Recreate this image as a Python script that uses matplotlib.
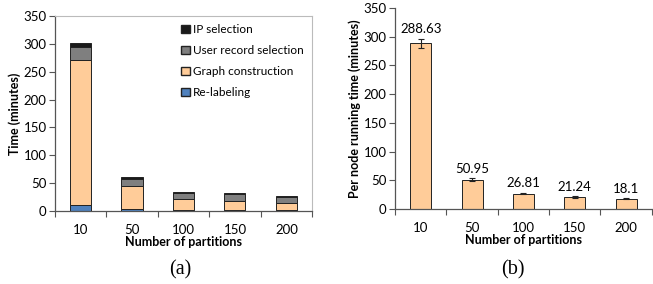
import numpy as np
import matplotlib
matplotlib.use('Agg')
import matplotlib.pyplot as plt
from matplotlib.patches import Patch

plt.rcParams['font.family'] = ['Lato', 'DejaVu Sans']

# data
partitions = ['10', '50', '100', '150', '200']
relabeling = [10, 3, 1.5, 1.5, 1.5]
graph_construction = [261, 42, 19.5, 16, 12.5]
user_record_selection = [23, 12, 12, 12.5, 12]
ip_selection = [7, 3.5, 1.5, 1.5, 1.5]

per_node_time = [288.63, 50.95, 26.81, 21.24, 18.1]
per_node_err = [8, 2.5, 1.5, 1.2, 1.0]
per_node_labels = ['288.63', '50.95', '26.81', '21.24', '18.1']

c_blue = '#4f81bd'
c_peach = '#ffcc99'
c_gray = '#7f7f7f'
c_black = '#1a1a1a'

fig = plt.figure(figsize=(6.53, 2.84), dpi=100)

x = np.arange(len(partitions))
bw = 0.41


def style_axis(ax):
    ax.set_xlim(-0.5, len(partitions) - 0.5)
    ax.set_ylim(0, 350)
    ax.set_yticks(np.arange(0, 351, 50))
    ax.set_xticks(np.arange(-0.5, len(partitions)), minor=False)
    ax.set_xticklabels([])
    ax.set_xticks(x, minor=True)
    ax.set_xticklabels(partitions, minor=True)
    ax.tick_params(axis='x', which='minor', length=0, pad=9, labelsize=9.5)
    ax.tick_params(axis='x', which='major', length=4, width=0.8, direction='out', color='#555555')
    ax.tick_params(axis='y', length=4, width=0.8, direction='out', labelsize=9.5, pad=2, color='#555555')
    for s in ['left', 'bottom']:
        ax.spines[s].set_color('#555555')
        ax.spines[s].set_linewidth(0.9)
    ax.set_xlabel('Number of partitions', fontsize=9, fontweight='bold', labelpad=0)


# (a) stacked bars
ax1 = fig.add_axes([0.084, 0.257, 0.394, 0.687])
bottom = np.zeros(len(partitions))
for vals, col in [(relabeling, c_blue), (graph_construction, c_peach),
                  (user_record_selection, c_gray), (ip_selection, c_black)]:
    ax1.bar(x, vals, bw, bottom=bottom, color=col, edgecolor='#222222', linewidth=0.7)
    bottom += np.array(vals)
style_axis(ax1)
for s in ['top', 'right']:
    ax1.spines[s].set_color('#bbbbbb')
    ax1.spines[s].set_linewidth(0.8)
ax1.set_ylabel('Time (minutes)', fontsize=9, fontweight='bold', labelpad=2)
handles = [Patch(facecolor=c_black, edgecolor='#222222', label='IP selection'),
           Patch(facecolor=c_gray, edgecolor='#222222', label='User record selection'),
           Patch(facecolor=c_peach, edgecolor='#222222', label='Graph construction'),
           Patch(facecolor=c_blue, edgecolor='#222222', label='Re-labeling')]
ax1.legend(handles=handles, loc='upper right', frameon=False, fontsize=8.5,
           handlelength=0.7, handleheight=0.7, handletextpad=0.3, labelspacing=0.85,
           borderaxespad=0.3)

# (b) per node running time
ax2 = fig.add_axes([0.605, 0.264, 0.393, 0.708])
ax2.bar(x, per_node_time, bw, color=c_peach, edgecolor='#222222', linewidth=0.7,
        yerr=per_node_err, capsize=2, error_kw=dict(elinewidth=0.8, capthick=0.8, ecolor='#222222'))
for xi, v, e, lab in zip(x, per_node_time, per_node_err, per_node_labels):
    ax2.text(xi, v + e + 6, lab, ha='center', va='bottom', fontsize=9.5)
style_axis(ax2)
for s in ['top', 'right']:
    ax2.spines[s].set_visible(False)
ax2.set_ylabel('Per node running time (minutes)', fontsize=9, fontweight='bold', labelpad=2)

fig.text(0.276, 0.015, '(a)', ha='center', va='bottom', fontsize=14.5, family='Liberation Serif')
fig.text(0.785, 0.015, '(b)', ha='center', va='bottom', fontsize=14.5, family='Liberation Serif')

fig.savefig('out.png', dpi=100)
